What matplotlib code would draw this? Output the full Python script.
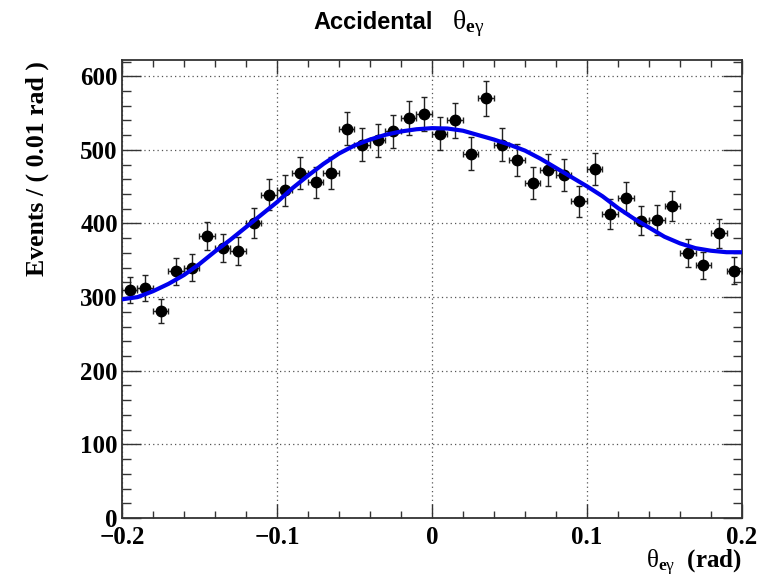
import numpy as np
import matplotlib
matplotlib.use("Agg")
import matplotlib.pyplot as plt
from matplotlib.ticker import MultipleLocator

plt.rcParams["mathtext.fontset"] = "custom"
plt.rcParams["mathtext.rm"] = "Liberation Serif"
plt.rcParams["mathtext.it"] = "Liberation Serif:italic"
plt.rcParams["mathtext.bf"] = "Liberation Serif:bold"

# bin centres (rad) and counts per 0.01 rad bin
theta = [-0.195, -0.185, -0.175, -0.165, -0.155, -0.145, -0.135, -0.125, -0.115, -0.105,
         -0.095, -0.085, -0.075, -0.065, -0.055, -0.045, -0.035, -0.025, -0.015, -0.005,
         0.005, 0.015, 0.025, 0.035, 0.045, 0.055, 0.065, 0.075, 0.085, 0.095,
         0.105, 0.115, 0.125, 0.135, 0.145, 0.155, 0.165, 0.175, 0.185, 0.195]
counts = [310, 312, 281, 335, 340, 383, 367, 363, 401, 439,
          445, 469, 456, 469, 529, 507, 513, 525, 543, 549,
          522, 540, 495, 570, 507, 486, 455, 472, 466, 430,
          474, 413, 435, 404, 405, 424, 360, 343, 387, 336]

# fitted curve
fit_x = [-0.20, -0.19, -0.18, -0.17, -0.16, -0.15, -0.14, -0.13, -0.12, -0.11,
         -0.10, -0.09, -0.08, -0.07, -0.06, -0.05, -0.04, -0.03, -0.02, -0.01,
         0.00, 0.01, 0.02, 0.03, 0.04, 0.05, 0.06, 0.07, 0.08, 0.09,
         0.10, 0.11, 0.12, 0.13, 0.14, 0.15, 0.16, 0.17, 0.18, 0.19, 0.20]
fit_y = [297, 300, 308, 318, 330, 345, 362, 378, 395, 412,
         429, 448, 465, 481, 495, 506, 514, 520.5, 525, 528,
         529.5, 529, 526, 520, 514, 507, 499, 488, 475.5, 463,
         450.5, 437, 421, 407, 394.5, 382, 373, 366.5, 363, 361, 361]

fig = plt.figure(figsize=(7.69, 5.83), dpi=100)
ax = fig.add_axes([0.1586, 0.1115, 0.8063, 0.7855])

ax.errorbar(theta, counts, xerr=0.005, yerr=np.sqrt(counts), fmt="o", color="black",
            ecolor="#222222", elinewidth=1.0, capsize=2.2, capthick=1.0, markersize=7.5,
            zorder=3)
ax.plot(fit_x, fit_y, color="#0000ee", linewidth=3.0, zorder=4)

ax.set_xlim(-0.2, 0.2)
ax.set_ylim(0, 622)
ax.xaxis.set_major_locator(MultipleLocator(0.1))
ax.xaxis.set_minor_locator(MultipleLocator(0.02))
ax.yaxis.set_major_locator(MultipleLocator(100))
ax.yaxis.set_minor_locator(MultipleLocator(20))
ax.set_xticks([-0.2, -0.1, 0, 0.1, 0.2])
ax.set_xticklabels(["\u22120.2", "\u22120.1", "0", "0.1", "0.2"])

ax.grid(True, which="major", linestyle=(0, (1, 2.5)), color="#555555", linewidth=0.9)
ax.tick_params(which="both", direction="in", top=True, right=True, color="#333333")
ax.tick_params(axis="x", which="major", length=9.9, width=1.0, pad=6)
ax.tick_params(axis="x", which="minor", length=4.9, width=1.0)
ax.tick_params(axis="y", which="major", length=13.4, width=1.0, pad=3)
ax.tick_params(axis="y", which="minor", length=6.7, width=1.0)
for lab in ax.get_xticklabels() + ax.get_yticklabels():
    lab.set_fontfamily("Liberation Serif")
    lab.set_fontweight("bold")
    lab.set_fontsize(18)
for sp in ax.spines.values():
    sp.set_linewidth(1.3)
    sp.set_color("#333333")

ax.set_ylabel("Events / ( 0.01 rad )", fontfamily="Liberation Serif", fontweight="bold",
              fontsize=18.5)
ax.yaxis.set_label_coords(-0.118, 0.764)
ax.set_xlabel(r"$\mathrm{\theta}_{\mathbf{e}\mathrm{\gamma}}$  (rad)", fontfamily="Liberation Serif",
              fontweight="bold", fontsize=18, ha="right", va="top")
ax.xaxis.set_label_coords(1.0, -0.066)

fig.text(313 / 769, 0.950, "Accidental", fontfamily="Liberation Sans", fontweight="bold",
         fontsize=17, ha="left", va="baseline")
fig.text(452 / 769, 0.950, r"$\mathrm{\theta}_{\mathbf{e}\mathrm{\gamma}}$",
         fontfamily="Liberation Serif", fontsize=20, ha="left", va="baseline")

fig.savefig("out.png", dpi=100)
